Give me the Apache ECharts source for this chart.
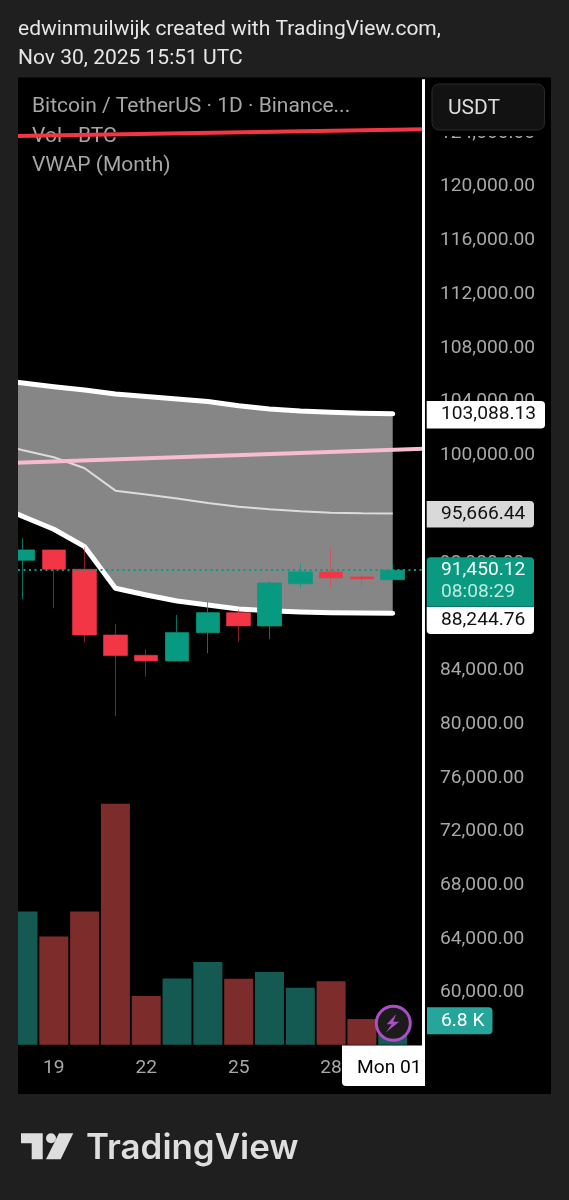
<!DOCTYPE html>
<html><head><meta charset="utf-8">
<style>html,body{margin:0;padding:0;background:#1f1f1f}#c{width:569px;height:1200px}</style>
<script src="https://cdn.jsdelivr.net/npm/echarts@6/dist/echarts.min.js"></script>
</head><body><div id="c"></div>
<script>
// Days of the month; 31 stands for Mon 01 (next month)
const days = [18,19,20,21,22,23,24,25,26,27,28,29,30];
const opens  = [92190,92956,91520,86629,85117,84694,86800,88289,87299,90448,91319,90947,90745];
const closes = [92956,91520,86629,85088,84694,86800,88289,87299,90500,91319,90872,90798,91450.12];
const lows   = [89286,88616,86056,80599,83525,84694,85267,86130,86309,90105,90180,90180,90723];
const highs  = [93827,92956,93157,87448,85564,88118,89108,88542,90649,91966,93083,91095,92011];
const volumes = [33.1,26.9,33.1,59.9,12.1,16.5,20.6,16.4,18.1,14.2,15.8,6.4,6.8];
const bandDays = [17,18,19,20,21,22,23,24,25,26,27,28,29,30];
const vwapUpper = [105648,105388,105112,104867,104569,104383,104197,104011,103698,103452,103304,103207,103133,103088.13];
const vwapMid   = [100921,100385,99857,99038,97370,97087,96790,96455,96179,95986,95837,95733,95688,95666.44];
const vwapLower = [96455,95450,94497,93202,90105,89606,89159,88862,88564,88437,88341,88289,88264,88244.76];
const trendDays = [17.8,31.0];
const redTrend = [123774,124273];
const pinkTrend = [99454,100497];
const dayTicks = [19,22,25,28];
const lastPrice = 91450.12;
const crossDay = 31;

const RED='#f23645', GREEN='#089981', FONT='Roboto';
const fmt = v => v.toLocaleString('en-US',{minimumFractionDigits:2,maximumFractionDigits:2});
const pair = (xs,ys) => xs.map((x,i)=>[x,ys[i]]);
const label = (text,x,y,size,fill,z) => ({type:'text',z:z??60,style:{text,x,y,fill,font:`${size}px ${FONT}`,textVerticalAlign:'middle'}});
const rect = (x,y,w,h,fill,r,z,stroke) => ({type:'rect',z:z??55,shape:{x,y,width:w,height:h,r:r||0},style:{fill,stroke:stroke||null,lineWidth:stroke?1:0}});
const poly = (points,fill,z) => ({type:'polygon',z:z??60,shape:{points},style:{fill}});

const graphics = [
  rect(18,77.5,533,1016.5,'#000',0,0),
  rect(0,70,18,1030,'#1f1f1f',0,50),
  label('edwinmuilwijk created with TradingView.com,',18,30,21,'#e6e6e6',1),
  label('Nov 30, 2025 15:51 UTC',18,59,21,'#e6e6e6',1),
  label('Bitcoin / TetherUS · 1D · Binance...',32,107,21,'#a6a6a6',1),
  label('Vol · BTC',32,137,21,'#a6a6a6',1),
  label('VWAP (Month)',32,166,21,'#a6a6a6',1),
  // top of the price scale
  rect(426,78,125,58,'#000'),
  rect(432,84,112.5,46,'#121212',7,56,'#2a2a2a'),
  label('USDT',448,109,21,'#dcdcdc'),
  // price tags
  rect(426.7,401,118.3,27.5,'#fff',[0,4,4,0]),
  label(fmt(vwapUpper[13]),441,414.5,19.2,'#111'),
  rect(426.7,501,107.3,26.5,'#d9d9d9',[0,4,4,0]),
  label(fmt(vwapMid[13]),441,514.5,19.2,'#111'),
  rect(426.7,557.3,107.3,49.5,'#0a9a82',[4,4,0,0]),
  label(fmt(lastPrice),441,570,19.2,'#fff'),
  label('08:08:29',441,592.5,19.2,'#bfe9de'),
  rect(426.7,607,107.3,27,'#fff',[0,0,4,4]),
  label(fmt(vwapLower[13]),441,620.5,19.2,'#111'),
  rect(427,1007.3,65.5,27,'#26a69a',[0,4,4,0]),
  label('6.8 K',441,1021.5,19.2,'#fff'),
  // Mon 01 tag
  rect(342,1045.5,83,40.5,'#fff',[0,0,0,4]),
  label('Mon 01',357,1068.5,19.2,'#000'),
  // lightning badge
  {type:'circle',z:58,shape:{cx:393.3,cy:1023.3,r:17},style:{fill:'#1c1c1c',stroke:'#ab4fc4',lineWidth:3}},
  poly([[396,1014.3],[386.7,1024.3],[391.7,1024.3],[386,1032.3],[399.3,1021.7],[393.3,1021.7]],'#ab4fc4'),
  // TradingView logo
  poly([[21,1133.3],[42.7,1133.3],[42.7,1159.3],[31.7,1159.3],[31.7,1143.3],[21,1143.3]],'#dedede'),
  {type:'circle',z:60,shape:{cx:51,cy:1138.3,r:5},style:{fill:'#dedede'}},
  poly([[59,1133.3],[73.3,1133.3],[60.7,1159.3],[46,1159.3]],'#dedede'),
  {type:'text',z:60,style:{text:'TradingView',x:86,y:1148.5,fill:'#dedede',font:'600 34.9px Inter',textVerticalAlign:'middle'}}
];

// Grey fill between the VWAP bands, placed through the chart's own scales
const renderBand = (params, api) => {
  if (params.dataIndex !== 0) return null;
  const top = bandDays.map((d,i)=>api.coord([d,vwapUpper[i]]));
  const bottom = bandDays.map((d,i)=>api.coord([d,vwapLower[i]])).reverse();
  return {type:'polygon',shape:{points:top.concat(bottom)},style:{fill:'#868686'}};
};

const option = {
  animation:false,
  backgroundColor:'#1f1f1f',
  textStyle:{fontFamily:FONT},
  grid:{left:18,right:145,top:79.2,bottom:153.6,containLabel:false},
  xAxis:{type:'value',min:17.838,max:31.015,
    axisLine:{show:false},axisTick:{show:false},splitLine:{show:false},
    axisLabel:{customValues:dayTicks,color:'#a8a8a8',fontSize:19.2,fontFamily:FONT,margin:12,formatter:v=>String(v)}},
  yAxis:[
    {type:'value',position:'right',min:56000,max:128000,interval:4000,
     axisLine:{show:false},axisTick:{show:false},splitLine:{show:false},
     axisLabel:{color:'#a8a8a8',fontSize:19.2,fontFamily:FONT,margin:16,align:'left',padding:[0,0,1.8,0],
       showMinLabel:false,showMaxLabel:false,formatter:v=>fmt(v)}},
    {type:'value',min:-0.4,max:240,show:false}
  ],
  graphic:{elements:graphics},
  series:[
    {type:'bar',name:'Vol',yAxisIndex:1,barWidth:29,z:2,
     data:days.map((d,i)=>({value:[d,volumes[i]],itemStyle:{color:closes[i]>=opens[i]?'#155a52':'#7b2c2b'}}))},
    {type:'custom',name:'band',z:3,clip:true,renderItem:renderBand,encode:{x:0,y:1},data:pair(bandDays,vwapUpper)},
    {type:'line',name:'VWAP',symbol:'none',z:4,lineStyle:{color:'#dcdcdc',width:2},data:pair(bandDays,vwapMid)},
    {type:'line',name:'Upper',symbol:'none',z:4,lineStyle:{color:'#fff',width:5,cap:'round',join:'round'},data:pair(bandDays,vwapUpper)},
    {type:'line',name:'Lower',symbol:'none',z:4,lineStyle:{color:'#fff',width:5,cap:'round',join:'round'},data:pair(bandDays,vwapLower)},
    {type:'line',name:'Pink trend',symbol:'none',z:5,lineStyle:{color:'#f8bbd0',width:4},data:pair(trendDays,pinkTrend)},
    {type:'line',name:'Red trend',symbol:'none',z:5,lineStyle:{color:RED,width:4},data:pair(trendDays,redTrend)},
    {type:'candlestick',name:'wicks',z:6,barWidth:24,
     itemStyle:{color:'rgba(0,0,0,0)',color0:'rgba(0,0,0,0)',borderColor:'rgba(8,153,129,.75)',borderColor0:'rgba(242,54,69,.55)',borderWidth:1},
     data:days.map((d,i)=>[d,opens[i],closes[i],lows[i],highs[i]])},
    {type:'candlestick',name:'bodies',z:7,barWidth:24,
     itemStyle:{color:GREEN,color0:RED,borderWidth:0},
     data:days.map((d,i)=>[d,opens[i],closes[i],Math.min(opens[i],closes[i]),Math.max(opens[i],closes[i])]),
     markLine:{silent:true,symbol:'none',animation:false,z:8,label:{show:false},
       data:[
        {yAxis:lastPrice,lineStyle:{color:GREEN,type:[2,3.5],width:2}},
        {xAxis:crossDay,lineStyle:{color:'#fff',type:'solid',width:3}}
       ]}}
  ]
};
const chart = echarts.init(document.getElementById('c'),null,{renderer:'canvas'});
chart.setOption(option);
</script></body></html>
